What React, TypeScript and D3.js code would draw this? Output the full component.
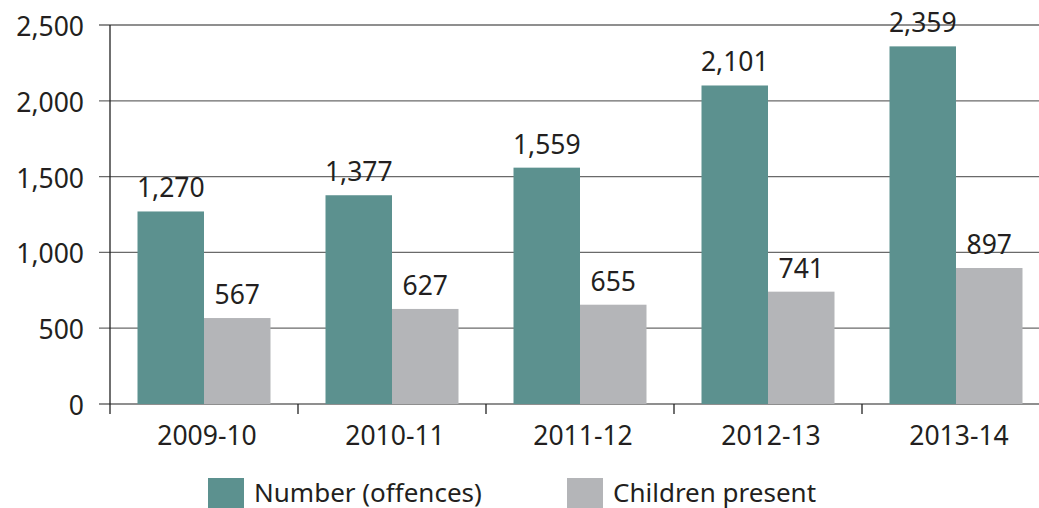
import React from "react";
import * as d3 from "d3";

const categories = ["2009-10", "2010-11", "2011-12", "2012-13", "2013-14"];
const seriesNames = ["Number (offences)", "Children present"];
const offences = [1270, 1377, 1559, 2101, 2359];
const children = [567, 627, 655, 741, 897];
const yTicks = [0, 500, 1000, 1500, 2000, 2500];
const colors = ["#5C918F", "#B4B5B8"];

const W = 1039;
const H = 508;
const FONT = "'Noto Sans', 'Open Sans', sans-serif";
const TEXT = "#231f20";

export default function App() {
  const x0 = d3.scaleBand<string>().domain(categories).range([110, 1050]).padding(0);
  const x1 = d3
    .scaleBand<string>()
    .domain(seriesNames)
    .range([0, x0.bandwidth()])
    .paddingInner(0)
    .paddingOuter(0.4135);
  const y = d3.scaleLinear().domain([0, 2500]).range([404, 25]);
  const fmt = d3.format(",");
  const values = [offences, children];

  return (
    <svg
      width={W}
      height={H}
      style={{ position: "absolute", left: 0, top: 0, background: "#fff" }}
      fontFamily={FONT}
    >
      {yTicks.map((t) => (
        <g key={t}>
          <line
            x1={99}
            x2={1050}
            y1={y(t)}
            y2={y(t)}
            stroke="#6a6a6a"
            strokeWidth={1.3}
          />
          <text
            x={84}
            y={y(t) + 1}
            textAnchor="end"
            dominantBaseline="central"
            fontSize={26.5}
            fill={TEXT}
          >
            {fmt(t)}
          </text>
        </g>
      ))}
      {categories.map((c, i) =>
        seriesNames.map((s, j) => {
          const v = values[j][i];
          const bx = (x0(c) ?? 0) + (x1(s) ?? 0);
          return (
            <g key={c + s}>
              <rect
                x={bx}
                y={y(v)}
                width={x1.bandwidth()}
                height={y(0) - y(v)}
                fill={colors[j]}
              />
              <text
                x={bx + x1.bandwidth() / 2}
                y={y(v) - 14}
                textAnchor="middle"
                fontSize={26.5}
                fill={TEXT}
              >
                {fmt(v)}
              </text>
            </g>
          );
        })
      )}
      <line x1={110} x2={110} y1={25} y2={414} stroke="#222" strokeWidth={1.3} />
      {categories.map((c) => (
        <line
          key={"t" + c}
          x1={(x0(c) ?? 0) + x0.bandwidth()}
          x2={(x0(c) ?? 0) + x0.bandwidth()}
          y1={404}
          y2={414}
          stroke="#222"
          strokeWidth={1.3}
        />
      ))}
      {categories.map((c) => (
        <text
          key={"l" + c}
          x={(x0(c) ?? 0) + x0.bandwidth() / 2 + 3}
          y={445}
          textAnchor="middle"
          fontSize={26.5}
          fill={TEXT}
        >
          {c}
        </text>
      ))}
      {seriesNames.map((s, j) => {
        const lx = [208, 567][j];
        return (
          <g key={"lg" + s}>
            <rect x={lx} y={478} width={36} height={30} fill={colors[j]} />
            <text x={lx + 46} y={502} fontSize={26} fill={TEXT}>
              {s}
            </text>
          </g>
        );
      })}
    </svg>
  );
}
